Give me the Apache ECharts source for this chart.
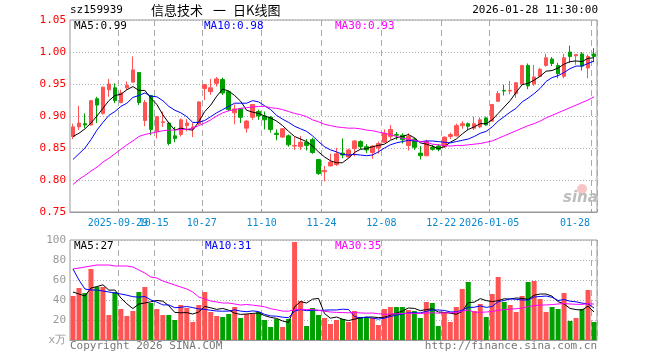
<!DOCTYPE html>
<html><head><meta charset="utf-8">
<script src="https://cdn.jsdelivr.net/npm/echarts@6/dist/echarts.min.js"></script>
<style>html,body{margin:0;padding:0;background:#fff}#c{width:660px;height:360px}</style>
</head><body><div id="c"></div>
<script>
const dates = [
'2025-09-17','2025-09-18','2025-09-19','2025-09-22','2025-09-23','2025-09-24','2025-09-25','2025-09-26','2025-09-29','2025-09-30',
'2025-10-09','2025-10-10','2025-10-13','2025-10-14','2025-10-15','2025-10-16','2025-10-17','2025-10-20','2025-10-21','2025-10-22',
'2025-10-23','2025-10-24','2025-10-27','2025-10-28','2025-10-29','2025-10-30','2025-10-31','2025-11-03','2025-11-04','2025-11-05',
'2025-11-06','2025-11-07','2025-11-10','2025-11-11','2025-11-12','2025-11-13','2025-11-14','2025-11-17','2025-11-18','2025-11-19',
'2025-11-20','2025-11-21','2025-11-24','2025-11-25','2025-11-26','2025-11-27','2025-11-28','2025-12-01','2025-12-02','2025-12-03',
'2025-12-04','2025-12-05','2025-12-08','2025-12-09','2025-12-10','2025-12-11','2025-12-12','2025-12-15','2025-12-16','2025-12-17',
'2025-12-18','2025-12-19','2025-12-22','2025-12-23','2025-12-24','2025-12-25','2025-12-26','2025-12-29','2025-12-30','2025-12-31',
'2026-01-05','2026-01-06','2026-01-07','2026-01-08','2026-01-09','2026-01-12','2026-01-13','2026-01-14','2026-01-15','2026-01-16',
'2026-01-19','2026-01-20','2026-01-21','2026-01-22','2026-01-23','2026-01-26','2026-01-27','2026-01-28'];

const open = [
.868,.883,.888,.886,.927,.904,.941,.944,.921,.944,
.953,.968,.893,.932,.876,.890,.889,.869,.871,.885,
.881,.888,.943,.938,.951,.957,.938,.905,.911,.881,
.898,.907,.900,.898,.873,.867,.869,.853,.852,.859,
.863,.832,.813,.822,.824,.842,.836,.849,.860,.852,
.843,.850,.859,.868,.871,.870,.854,.864,.842,.838,
.851,.853,.852,.868,.869,.885,.888,.881,.883,.897,
.892,.923,.940,.939,.935,.950,.979,.950,.962,.979,
.989,.979,.962,1.000,.994,.997,.975,.997];
const close = [
.883,.889,.886,.924,.917,.945,.950,.924,.936,.948,
.972,.921,.921,.879,.899,.891,.857,.865,.894,.889,
.883,.922,.949,.944,.958,.936,.910,.911,.898,.892,
.918,.900,.894,.879,.871,.880,.855,.854,.859,.854,
.843,.810,.815,.828,.841,.839,.847,.861,.852,.847,
.853,.857,.873,.879,.870,.863,.868,.851,.838,.860,
.848,.848,.867,.871,.885,.888,.884,.888,.894,.886,
.918,.935,.939,.940,.952,.979,.947,.961,.973,.991,
.982,.966,.991,.993,.996,.978,.993,.993];
const high = [
.888,.916,.904,.924,.930,.946,.958,.951,.941,.954,
.993,.968,.925,.932,.899,.907,.889,.883,.896,.895,
.889,.923,.949,.958,.961,.960,.940,.918,.912,.894,
.918,.910,.907,.900,.879,.881,.871,.867,.869,.864,
.866,.832,.822,.841,.850,.865,.849,.862,.862,.856,
.854,.860,.879,.886,.875,.873,.873,.866,.853,.863,
.855,.856,.868,.874,.888,.892,.890,.899,.898,.899,
.918,.939,.949,.955,.953,.980,.982,.980,.975,.997,
.992,.983,.997,1.010,.996,1.000,.996,1.006];
const low = [
.864,.878,.881,.885,.889,.902,.930,.920,.920,.941,
.952,.917,.884,.870,.865,.883,.854,.859,.868,.876,
.867,.886,.925,.933,.946,.933,.908,.887,.889,.874,
.894,.894,.879,.874,.862,.866,.852,.847,.847,.846,
.841,.808,.798,.821,.822,.834,.834,.837,.848,.842,
.833,.841,.858,.863,.863,.857,.846,.847,.832,.837,
.846,.845,.850,.864,.868,.880,.878,.878,.881,.885,
.892,.922,.932,.934,.928,.949,.942,.947,.961,.977,
.978,.959,.959,.983,.980,.971,.959,.984];

const volume = [
44,52,47,71,53,53,25,48,31,24,
29,48,53,37,31,25,25,20,35,32,
18,35,48,28,24,23,26,33,22,26,
26,28,20,13,21,13,21,98,39,14,
32,25,22,16,20,21,18,29,23,23,
22,15,31,33,33,33,30,29,22,38,
37,14,27,18,33,51,58,29,36,23,
46,63,38,35,28,44,58,59,41,28,
33,31,47,19,22,31,50,18];

const ma5 = [
.868,.873,.880,.889,.900,.912,.924,.932,.934,.941,
.946,.940,.940,.928,.918,.902,.889,.878,.881,.879,
.878,.891,.907,.917,.931,.942,.939,.932,.923,.909,
.906,.904,.900,.897,.892,.885,.876,.868,.864,.860,
.853,.844,.836,.830,.827,.827,.834,.843,.848,.849,
.852,.854,.856,.862,.866,.868,.871,.866,.858,.856,
.853,.849,.852,.859,.864,.872,.879,.883,.888,.888,
.894,.904,.914,.924,.937,.949,.951,.956,.962,.970,
.971,.975,.981,.985,.986,.985,.990,.991];
const ma10 = [
.832,.841,.850,.863,.878,.890,.901,.907,.915,.920,
.929,.932,.936,.931,.930,.924,.915,.909,.905,.899,
.890,.890,.893,.899,.905,.910,.915,.920,.920,.920,
.924,.922,.916,.910,.901,.895,.890,.884,.880,.876,
.869,.860,.852,.847,.844,.840,.839,.840,.839,.838,
.839,.844,.850,.855,.858,.860,.862,.861,.860,.861,
.861,.860,.859,.858,.860,.862,.864,.868,.873,.876,
.883,.892,.899,.906,.912,.922,.928,.935,.943,.954,
.960,.963,.968,.974,.978,.978,.982,.986];
const ma30 = [
.793,.801,.807,.814,.820,.828,.834,.841,.848,.855,
.861,.868,.871,.873,.875,.877,.878,.878,.879,.879,
.881,.885,.889,.894,.900,.905,.908,.910,.912,.913,
.914,.915,.915,.913,.912,.910,.907,.904,.902,.899,
.894,.891,.887,.885,.883,.882,.881,.881,.880,.878,
.877,.875,.873,.871,.868,.865,.864,.862,.860,.859,
.856,.855,.854,.853,.854,.854,.855,.856,.857,.859,
.861,.865,.869,.873,.877,.881,.885,.888,.892,.897,
.901,.905,.909,.913,.917,.921,.925,.930];

const volMa5 = [
48,46,44,52,53.4,55.2,49.8,50,42,36.2,
31.4,36,37,38.2,39.6,38.8,34.2,27.6,27.2,27.4,
26,28,33.6,32.2,30.6,31.6,29.8,26.8,25.6,26,
26.6,27,24.4,22.6,21.6,19,17.6,33.2,38.4,37,
40.8,41.6,26.4,21.8,23,20.8,19.4,20.8,22.2,22.8,
23,22.4,22.8,24.8,26.8,29,32,31.6,29.4,30.4,
31.2,28,27.6,26.8,25.8,28.6,37.4,37.8,41.4,39.4,
38.4,39.4,41.2,41,42,41.6,40.6,44.8,46,46,
43.8,38.4,36,31.6,30.4,30,33.8,28];
const volMa10 = [
71,60,51,50,50,49,48,47,46,44.8,
43.3,42.9,43.5,40.1,37.9,35.1,35.1,32.3,32.7,33.5,
32.4,31.1,30.6,29.7,29,28.8,28.9,30.2,28.9,28.3,
29.1,28.4,25.6,24.1,23.8,22.8,22.3,28.8,30.5,29.3,
29.9,29.6,29.8,30.1,30,30.8,30.5,23.6,22,22.9,
21.9,20.9,21.8,23.5,24.8,26,27.2,27.2,27.1,28.6,
30.1,30,29.6,28.1,28.1,29.9,32.7,32.7,34.1,32.6,
33.5,38.4,39.5,41.2,40.7,40,40,43,43.5,44,
42.7,39.5,40.4,38.8,38.2,36.9,36.1,32];
const volMa30 = [
71,72,73,74,75,75,75,74,74,74,
73,70,67,63,62,59,57,55,53,51,
48,43,41,39,38,37,37,36,35,35.5,
34.9,34.1,33.2,31.3,30.2,28.9,28.8,30.4,30.7,30.4,
30.5,29.7,28.7,28,27.6,27.5,27.2,27.5,27.1,26.8,
27,26.3,25.7,25.9,26.2,26.5,26.7,26.5,26.5,26.9,
27.3,26.8,27.1,27.2,27.6,28.9,30.1,27.8,27.7,28,
28.5,29.8,30.3,30.9,31.2,32,33.3,34.3,34.9,35.1,
35.4,36,36.5,36,35.7,35.6,36.3,35.9];

const tickDates  = ['2025-09-29','2025-10-15','2025-10-27','2025-11-10','2025-11-24','2025-12-08','2025-12-22','2026-01-05','2026-01-28'];
const tickLabels = ['2025-09-29','10-15','10-27','11-10','11-24','12-08','12-22','2026-01-05','01-28'];
const priceTicks = [0.75, 0.80, 0.85, 0.90, 0.95, 1.00, 1.05];
const volTicks = [0, 20, 40, 60, 80, 100];

const UP = '#ff5454', DOWN = '#00a000';
const MONO = 'DejaVu Sans Mono';
const LABEL_BLUE = '#0b88d0';
const tickIdx = new Set(tickDates.map(d => dates.indexOf(d)));
const firstTick = dates.indexOf(tickDates[0]);
const lastTick = dates.indexOf(tickDates[tickDates.length - 1]);
const isTick = (i) => tickIdx.has(i);
const isAxisLabel = (i) => tickIdx.has(i) && i !== firstTick;

const kData = dates.map((d, i) => [open[i], close[i], low[i], high[i]]);
const volData = volume.map((v, i) => ({ value: v, itemStyle: { color: close[i] >= open[i] ? UP : DOWN } }));

const dashV = { show: true, interval: isTick, lineStyle: { color: '#aaa', type: [6, 4], width: 1 } };
const dotH = { show: true, lineStyle: { color: '#b0b0b0', type: [1, 2], width: 1 } };
const F = '11px "' + MONO + '"';

const chart = echarts.init(document.getElementById('c'), null, { renderer: 'canvas' });
chart.setOption({
  animation: false,
  backgroundColor: '#fff',
  grid: [
    { left: 70, right: 63, top: 20, height: 192, show: true, borderColor: '#999', borderWidth: 1, backgroundColor: 'transparent' },
    { left: 70, right: 63, top: 240, height: 100, show: true, borderColor: '#999', borderWidth: 1, backgroundColor: 'transparent' }
  ],
  xAxis: [
    { type: 'category', gridIndex: 0, data: dates, boundaryGap: true,
      axisLine: { show: true, lineStyle: { color: '#999' } },
      axisTick: { show: true, inside: true, length: 3, interval: isTick, lineStyle: { color: '#999' } },
      splitLine: dashV,
      axisLabel: {
        show: true, interval: isAxisLabel, hideOverlap: false, color: LABEL_BLUE, fontFamily: MONO, fontSize: 10, margin: 6,
        formatter: (v, i) => {
          const k = tickDates.indexOf(v);
          if (k < 0) return '';
          return i === lastTick ? '{r|' + tickLabels[k] + '}' : '{a|' + tickLabels[k] + '}';
        },
        rich: {
          a: { color: LABEL_BLUE, fontFamily: MONO, fontSize: 10, padding: [0, 6, 0, 0] },
          r: { color: LABEL_BLUE, fontFamily: MONO, fontSize: 10, padding: [0, 38, 0, 0] }
        }
      }
    },
    { type: 'category', gridIndex: 1, data: dates, boundaryGap: true,
      axisLine: { show: true, lineStyle: { color: '#999' } },
      axisTick: { show: false }, axisLabel: { show: false },
      splitLine: dashV
    }
  ],
  yAxis: [
    { type: 'value', gridIndex: 0, min: priceTicks[0], max: priceTicks[priceTicks.length - 1], interval: 0.05,
      axisLine: { show: false }, axisTick: { show: false },
      axisLabel: { color: '#ff0000', fontFamily: MONO, fontSize: 11, margin: 4, formatter: v => v.toFixed(2) },
      splitLine: dotH
    },
    { type: 'value', gridIndex: 1, min: volTicks[0], max: volTicks[volTicks.length - 1], interval: 20,
      axisLine: { show: false }, axisTick: { show: false },
      axisLabel: { color: '#999', fontFamily: MONO, fontSize: 11, margin: 4, formatter: v => v === 0 ? 'x万' : String(v) },
      splitLine: dotH
    }
  ],
  series: [
    { type: 'candlestick', xAxisIndex: 0, yAxisIndex: 0, data: kData, barWidth: 4,
      itemStyle: { color: UP, color0: DOWN, borderColor: UP, borderColor0: DOWN, borderWidth: 1 } },
    { type: 'line', xAxisIndex: 0, yAxisIndex: 0, data: ma5, symbol: 'none', lineStyle: { color: '#000', width: 1 }, z: 5 },
    { type: 'line', xAxisIndex: 0, yAxisIndex: 0, data: ma10, symbol: 'none', lineStyle: { color: '#0000ff', width: 1 }, z: 5 },
    { type: 'line', xAxisIndex: 0, yAxisIndex: 0, data: ma30, symbol: 'none', lineStyle: { color: '#ff00ff', width: 1 }, z: 5 },
    { type: 'bar', xAxisIndex: 1, yAxisIndex: 1, data: volData, barWidth: 5 },
    { type: 'line', xAxisIndex: 1, yAxisIndex: 1, data: volMa5, symbol: 'none', lineStyle: { color: '#000', width: 1 }, z: 5 },
    { type: 'line', xAxisIndex: 1, yAxisIndex: 1, data: volMa10, symbol: 'none', lineStyle: { color: '#0000ff', width: 1 }, z: 5 },
    { type: 'line', xAxisIndex: 1, yAxisIndex: 1, data: volMa30, symbol: 'none', lineStyle: { color: '#ff00ff', width: 1 }, z: 5 }
  ],
  graphic: [
    { id: 'code', type: 'text', left: 70, top: 5, style: { text: 'sz159939', fill: '#000', font: F } },
    { id: 't1', type: 'text', left: 151, top: 4, style: { text: '信息技术', fill: '#000', font: '13px "Noto Sans CJK SC"' } },
    { id: 't2', type: 'text', left: 213, top: 4, style: { text: '一', fill: '#000', font: '13px "Noto Sans CJK SC"' } },
    { id: 't3', type: 'text', left: 233, top: 4, style: { text: '日K线图', fill: '#000', font: '13px "Noto Sans CJK SC"' } },
    { id: 'time', type: 'text', right: 62, top: 5, style: { text: '2026-01-28 11:30:00', fill: '#000', font: F } },
    { id: 'm5', type: 'text', left: 74, top: 21, z: 10, style: { text: 'MA5:0.99', fill: '#000', font: F } },
    { id: 'm10', type: 'text', left: 204, top: 21, z: 10, style: { text: 'MA10:0.98', fill: '#0000ff', font: F } },
    { id: 'm30', type: 'text', left: 335, top: 21, z: 10, style: { text: 'MA30:0.93', fill: '#ff00ff', font: F } },
    { id: 'v5', type: 'text', left: 74, top: 241, z: 10, style: { text: 'MA5:27', fill: '#000', font: F } },
    { id: 'v10', type: 'text', left: 205, top: 241, z: 10, style: { text: 'MA10:31', fill: '#0000ff', font: F } },
    { id: 'v30', type: 'text', left: 335, top: 241, z: 10, style: { text: 'MA30:35', fill: '#ff00ff', font: F } },
    { id: 'copy', type: 'text', left: 70, top: 341, style: { text: 'Copyright 2026 SINA.COM', fill: '#777', font: F } },
    { id: 'url', type: 'text', right: 63, top: 341, style: { text: 'http://finance.sina.com.cn', fill: '#777', font: F } },
    { id: 'eye', type: 'circle', shape: { cx: 582, cy: 189, r: 5 }, style: { fill: 'rgba(235,90,90,0.35)' }, z: 1 },
    { id: 'logo', type: 'text', left: 563, top: 191, z: 1, style: { text: 'sina', fill: '#bdbdbd', font: 'italic bold 15px "DejaVu Sans"' } }
  ]
});

// First date label (overlaps its neighbour in the original, so it is placed via the axis scale)
const firstPos = chart.convertToPixel({ xAxisIndex: 0, yAxisIndex: 0 }, [tickDates[0], priceTicks[0]]);
const bandHalf = chart.convertToPixel({ xAxisIndex: 0 }, dates[1]) - chart.convertToPixel({ xAxisIndex: 0 }, dates[0]);
chart.setOption({
  graphic: [
    { id: 'firstDate', type: 'text', x: firstPos[0] - bandHalf / 2, y: firstPos[1] + 6, z: 2,
      style: { text: tickLabels[0], fill: LABEL_BLUE, font: '10px "' + MONO + '"', align: 'center', verticalAlign: 'top' } }
  ]
});
</script></body></html>
